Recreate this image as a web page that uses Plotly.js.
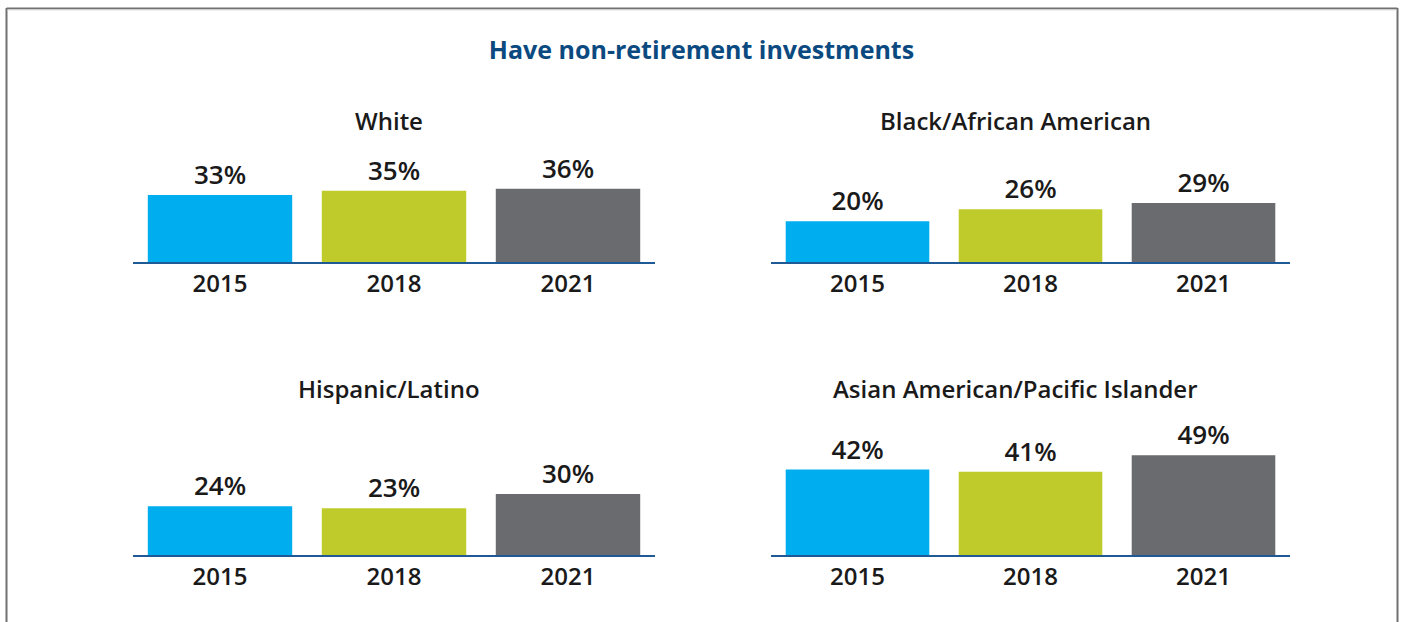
<!DOCTYPE html>
<html><head><meta charset="utf-8">
<script src="https://cdn.plot.ly/plotly-3.0.1.min.js"></script>
<style>html,body{margin:0;padding:0;background:#fff}#chart{width:1403px;height:622px}</style>
</head><body><div id="chart"></div>
<script>
const years = ['2015', '2018', '2021'];
const groups = ['White', 'Black/African American', 'Hispanic/Latino', 'Asian American/Pacific Islander'];
const white = [33, 35, 36];
const black = [20, 26, 29];
const hispanic = [24, 23, 30];
const asian = [42, 41, 49];
const chartTitle = 'Have non-retirement investments';

const seriesByGroup = [white, black, hispanic, asian];
const barColors = ['#00ADEF', '#BFCB2A', '#6A6B6F'];
const W = 1403, H = 622;
const xDomains = [[133 / W, 655 / W], [771 / W, 1290 / W]];
const yDomains = [[1 - 262 / H, 1 - 140 / H], [1 - 555 / H, 1 - 433 / H]];
const subTitleY = [121, 388];
const subTitleX = [389, 1015];
const FONT = '"Open Sans", "Noto Sans", sans-serif';

const traces = [];
const layout = {
  width: W, height: H,
  margin: {l: 0, r: 0, t: 0, b: 0},
  paper_bgcolor: '#ffffff', plot_bgcolor: 'rgba(0,0,0,0)',
  showlegend: false,
  bargap: 0.17,
  font: {family: FONT, color: '#1a1a1a'},
  title: {text: chartTitle, x: 0.5, xanchor: 'center', y: 1 - 50 / H, yanchor: 'middle',
    font: {family: FONT, size: 25, weight: 700, color: '#0B4A80'}},
  annotations: [],
  shapes: [
    {type: 'line', xref: 'paper', yref: 'paper', x0: 6.5 / W, x1: 6.5 / W, y0: 1 - 8 / H, y1: -0.05, line: {color: '#707070', width: 2}},
    {type: 'line', xref: 'paper', yref: 'paper', x0: 1397.5 / W, x1: 1397.5 / W, y0: 1 - 8 / H, y1: -0.05, line: {color: '#707070', width: 2}},
    {type: 'line', xref: 'paper', yref: 'paper', x0: 6.5 / W, x1: 1397.5 / W, y0: 1 - 8.5 / H, y1: 1 - 8.5 / H, line: {color: '#707070', width: 2}},
    {type: 'line', xref: 'paper', yref: 'paper', x0: 7.5 / W, x1: 1396.5 / W, y0: 1 - 10 / H, y1: 1 - 10 / H, line: {color: '#E2E2E2', width: 1}}
  ]
};

groups.forEach((g, i) => {
  const n = i + 1;
  const xa = n === 1 ? 'x' : 'x' + n;
  const ya = n === 1 ? 'y' : 'y' + n;
  const col = i % 2, row = Math.floor(i / 2);
  traces.push({
    type: 'bar', x: years, y: seriesByGroup[i], xaxis: xa, yaxis: ya,
    marker: {color: barColors, line: {width: 0}},
    text: seriesByGroup[i].map(v => v + '%'),
    textposition: 'outside', cliponaxis: false,
    textfont: {family: FONT, size: 26, weight: 600, color: '#1a1a1a'},
    hoverinfo: 'skip'
  });
  const xKey = n === 1 ? 'xaxis' : 'xaxis' + n;
  const yKey = n === 1 ? 'yaxis' : 'yaxis' + n;
  layout[xKey] = {
    domain: xDomains[col], anchor: ya, type: 'category',
    showline: true, linecolor: '#1F5A96', linewidth: 1.5, layer: 'above traces',
    showgrid: false, zeroline: false, ticks: '', fixedrange: true,
    tickfont: {family: FONT, size: 24, weight: 600, color: '#1a1a1a'}
  };
  layout[yKey] = {
    domain: yDomains[row], anchor: xa, range: [0, 60],
    visible: false, showgrid: false, zeroline: false, fixedrange: true
  };
  layout.annotations.push({
    text: g, xref: 'paper', yref: 'paper', showarrow: false,
    x: subTitleX[col] / W, xanchor: 'center',
    y: 1 - subTitleY[row] / H, yanchor: 'middle',
    font: {family: FONT, size: 24, weight: 600, color: '#1a1a1a'}
  });
});

Plotly.newPlot('chart', traces, layout, {displayModeBar: false, staticPlot: true});
</script></body></html>
